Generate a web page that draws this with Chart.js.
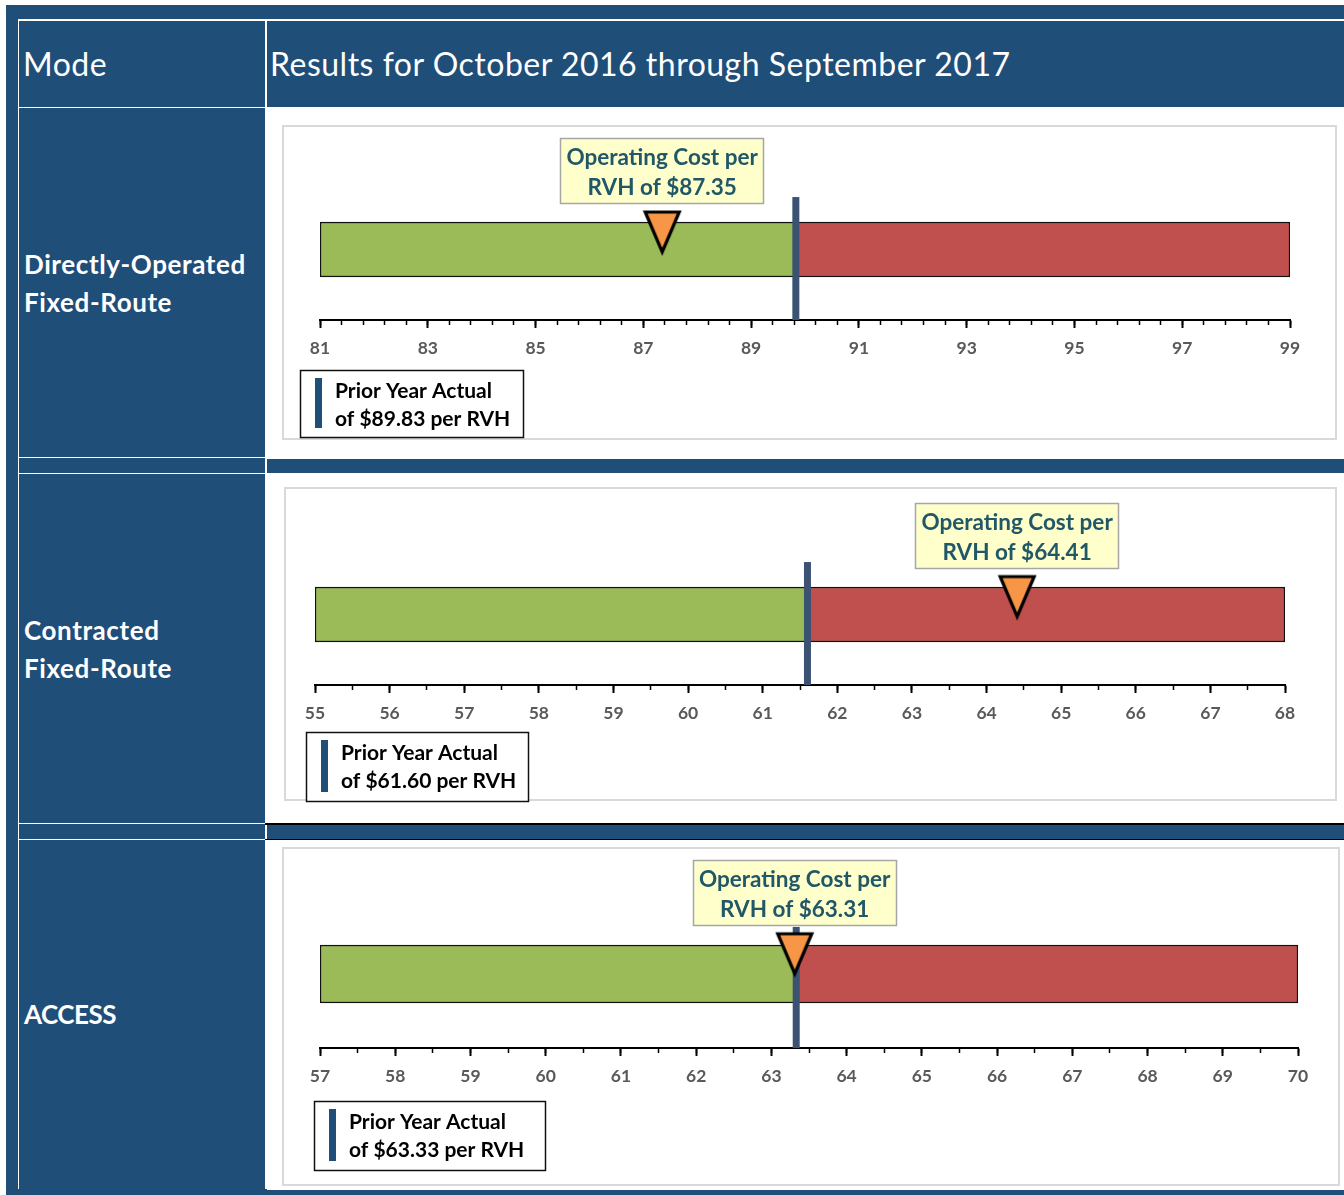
<!DOCTYPE html>
<html>
<head>
<meta charset="utf-8">
<script src="https://cdn.jsdelivr.net/npm/chart.js@4.4.1/dist/chart.umd.min.js"></script>
<style>
html,body{margin:0;padding:0;background:#fff;}
body{width:1344px;height:1195px;position:relative;overflow:hidden;font-family:Lato,"Open Sans",sans-serif;}
.abs{position:absolute;}
.wl{position:absolute;background:#fff;}
.bl{position:absolute;background:#000;}
.hdr{position:absolute;color:#fff;font-size:32px;top:21px;height:86px;line-height:86px;white-space:nowrap;letter-spacing:0.5px;}
.lbl{position:absolute;color:#fff;font-weight:bold;font-size:26px;line-height:38px;left:24px;width:240px;display:flex;align-items:center;letter-spacing:0.6px;}
.cell{position:absolute;background:#fff;left:267px;width:1077px;}
canvas{position:absolute;left:267px;}
</style>
</head>
<body>
<div class="abs" style="left:6px;top:5px;width:1338px;height:1190px;background:#1F4E79;"></div>
<!-- grid lines -->
<div class="wl" style="left:18px;top:19.3px;width:1326px;height:1.5px;"></div>
<div class="wl" style="left:18.2px;top:19.3px;width:1.2px;height:1170px;"></div>
<div class="wl" style="left:265.2px;top:19.3px;width:1.5px;height:1170px;"></div>
<div class="wl" style="left:18px;top:106.7px;width:1326px;height:1.5px;"></div>
<div class="wl" style="left:18px;top:456.7px;width:248px;height:1.4px;"></div>
<div class="wl" style="left:18px;top:473px;width:248px;height:1.4px;"></div>
<div class="wl" style="left:18px;top:823.2px;width:248px;height:1.3px;"></div>
<div class="wl" style="left:18px;top:838.6px;width:248px;height:1.3px;"></div>
<!-- result cells -->
<div class="cell" style="top:108px;height:351px;"></div>
<div class="cell" style="top:473px;height:350px;"></div>
<div class="cell" style="top:840px;height:350px;"></div>
<div class="bl" style="left:265px;top:823px;width:1079px;height:1.5px;"></div>
<div class="bl" style="left:265px;top:838.6px;width:1079px;height:1.5px;"></div>
<!-- headers -->
<div class="hdr" style="left:23px;">Mode</div>
<div class="hdr" style="left:270px;">Results for October 2016 through September 2017</div>
<div class="lbl" id="lbl0" style="top:108px;height:349px;"></div>
<div class="lbl" id="lbl1" style="top:474px;height:349px;"></div>
<div class="lbl" id="lbl2" style="top:840px;height:348px;letter-spacing:-0.5px;"></div>
<canvas id="c0" width="1077" height="351" style="top:108px;"></canvas>
<canvas id="c1" width="1077" height="350" style="top:473px;"></canvas>
<canvas id="c2" width="1077" height="350" style="top:840px;"></canvas>
<script>
// ---------------- DATA ----------------
const modeNames = ["Directly-Operated Fixed-Route", "Contracted Fixed-Route", "ACCESS"];
const modeLines = [["Directly-Operated", "Fixed-Route"], ["Contracted", "Fixed-Route"], ["ACCESS"]];
const operatingCost = [87.35, 64.41, 63.31];
const priorYearActual = [89.83, 61.60, 63.33];
const axisMin = [81, 55, 57];
const axisMax = [99, 68, 70];
const minorStep = [0.4, 0.5, 0.5];
const tickLabels1 = [81, 83, 85, 87, 89, 91, 93, 95, 97, 99];
const tickLabels2 = [55, 56, 57, 58, 59, 60, 61, 62, 63, 64, 65, 66, 67, 68];
const tickLabels3 = [57, 58, 59, 60, 61, 62, 63, 64, 65, 66, 67, 68, 69, 70];
const tickLabels = [tickLabels1, tickLabels2, tickLabels3];
const calloutTitle = "Operating Cost per";
const legendTitle = "Prior Year Actual";

// ---------------- LAYOUT (positions / styles) ----------------
const layoutCfg = [
  {padL:53, padR:54, padT:71, padB:99, barT:55, lineTop:0.872, triY:0.617, panel:[16,18,1053,313], callTop:30, legend:[33,262,224,68]},
  {padL:48, padR:59, padT:71, padB:98, barT:55, lineTop:0.872, triY:0.62,  panel:[18,15,1051,312], callTop:30, legend:[39,259,223,70]},
  {padL:53, padR:46, padT:60, padB:102, barT:58, lineTop:0.818, triY:0.63, panel:[16,8,1056,337],  callTop:20, legend:[47,261,232,70]}
];
const FONT = "Lato";
const COLORS = {green:"#9BBB59", red:"#C0504D", orange:"#F79646", prior:"#3B5273", legendMark:"#1F4E79",
  callFill:"#FFFFCC", callBorder:"#A6A6A6", callText:"#215868", tick:"#595959", panel:"#D9D9D9"};

modeLines.forEach((lines, i) => {
  const el = document.getElementById("lbl" + i);
  el.innerHTML = "<div>" + lines.join("<br>") + "</div>";
});

function makeTriangle() {
  const c = document.createElement("canvas");
  c.width = 40; c.height = 48;
  const g = c.getContext("2d");
  g.beginPath();
  g.moveTo(3, 3); g.lineTo(37, 3); g.lineTo(20, 43); g.closePath();
  g.fillStyle = COLORS.orange; g.fill();
  g.lineWidth = 3.2; g.lineJoin = "miter"; g.strokeStyle = "#000"; g.stroke();
  return c;
}
const triImg = makeTriangle();

const decorPlugin = {
  id: "decor",
  beforeDraw(chart) {
    const i = chart.options.plugins.decor.index;
    const L = layoutCfg[i];
    const ctx = chart.ctx;
    ctx.save();
    ctx.fillStyle = "#fff";
    ctx.fillRect(0, 0, chart.width, chart.height);
    ctx.strokeStyle = COLORS.panel;
    ctx.lineWidth = 2;
    ctx.strokeRect(L.panel[0], L.panel[1], L.panel[2], L.panel[3]);
    ctx.restore();
  },
  afterDraw(chart) {
    const i = chart.options.plugins.decor.index;
    const L = layoutCfg[i];
    const ctx = chart.ctx;
    const xs = chart.scales.x;
    ctx.save();
    const cx = xs.getPixelForValue(operatingCost[i]);
    const bw = 204, bh = 66;
    const bx = Math.round(cx - bw / 2), by = L.callTop;
    ctx.fillStyle = COLORS.callFill;
    ctx.fillRect(bx, by, bw, bh);
    ctx.strokeStyle = COLORS.callBorder;
    ctx.lineWidth = 1.5;
    ctx.strokeRect(bx + 0.5, by + 0.5, bw - 1, bh - 1);
    ctx.fillStyle = COLORS.callText;
    ctx.font = "bold 22.5px " + FONT;
    ctx.textAlign = "center";
    ctx.textBaseline = "middle";
    ctx.fillText(calloutTitle, cx, by + 20);
    ctx.fillText("RVH of $" + operatingCost[i].toFixed(2), cx, by + 50);
    const [lx, ly, lw, lh] = L.legend;
    ctx.fillStyle = "#fff";
    ctx.fillRect(lx, ly, lw, lh);
    ctx.strokeStyle = "#111";
    ctx.lineWidth = 1.5;
    ctx.strokeRect(lx + 0.5, ly + 0.5, lw - 1, lh - 1);
    ctx.fillStyle = COLORS.legendMark;
    ctx.fillRect(lx + 15, ly + 8, 7, lh - 18);
    ctx.fillStyle = "#000";
    ctx.font = "bold 21px " + FONT;
    ctx.textAlign = "left";
    ctx.fillText(legendTitle, lx + 35, ly + 21);
    ctx.fillText("of $" + priorYearActual[i].toFixed(2) + " per RVH", lx + 35, ly + 49);
    ctx.restore();
  }
};

function buildChart(i) {
  const L = layoutCfg[i];
  const min = axisMin[i], max = axisMax[i], prior = priorYearActual[i];
  const minorTicks = [];
  for (let k = 0; min + k * minorStep[i] <= max + 1e-9; k++) {
    minorTicks.push(Math.round((min + k * minorStep[i]) * 1000) / 1000);
  }
  return new Chart(document.getElementById("c" + i), {
    type: "bar",
    data: {
      labels: [modeNames[i]],
      datasets: [
        {type: "line", label: "Operating Cost per RVH", indexAxis: "x",
         data: [{x: operatingCost[i], y: L.triY}], xAxisID: "x", yAxisID: "yv",
         showLine: false, pointStyle: triImg, pointRadius: 20, order: 0, clip: false},
        {type: "line", label: "Prior Year Actual", indexAxis: "x",
         data: [{x: prior, y: 0}, {x: prior, y: L.lineTop}], xAxisID: "x", yAxisID: "yv",
         borderColor: COLORS.prior, borderWidth: 7, borderCapStyle: "butt", pointRadius: 0,
         order: 1, clip: false, fill: false},
        {type: "bar", label: "Below prior year", indexAxis: "y", data: [[min, prior]],
         xAxisID: "x", yAxisID: "y", backgroundColor: COLORS.green, borderColor: "#111",
         borderWidth: 1.5, borderSkipped: false, barThickness: L.barT, grouped: false, order: 2},
        {type: "bar", label: "Above prior year", indexAxis: "y", data: [[prior, max]],
         xAxisID: "x", yAxisID: "y", backgroundColor: COLORS.red, borderColor: "#111",
         borderWidth: 1.5, borderSkipped: false, barThickness: L.barT, grouped: false, order: 3}
      ]
    },
    options: {
      indexAxis: "y",
      responsive: false,
      animation: false,
      devicePixelRatio: 1,
      events: [],
      layout: {padding: {left: L.padL, right: L.padR, top: L.padT, bottom: L.padB}},
      plugins: {legend: {display: false}, tooltip: {enabled: false}, decor: {index: i}},
      scales: {
        x: {
          type: "linear", position: "bottom", min: min, max: max, beginAtZero: false, offset: false,
          afterBuildTicks: s => { s.ticks = tickLabels[i].map(v => ({value: v})); },
          afterFit: s => { s.height = 40; },
          grid: {display: true, drawOnChartArea: false, drawTicks: true, tickLength: 8, tickWidth: 2, tickColor: "#000"},
          border: {display: true, color: "#000", width: 2},
          ticks: {color: COLORS.tick, font: {family: FONT, size: 17.5, weight: "bold"}, padding: 10, autoSkip: false, maxRotation: 0}
        },
        xm: {
          type: "linear", axis: "x", position: {yv: 0}, min: min, max: max, beginAtZero: false, offset: false,
          afterBuildTicks: s => { s.ticks = minorTicks.map(v => ({value: v})); },
          grid: {display: true, drawOnChartArea: false, drawTicks: true, tickLength: 5, tickWidth: 1.5, tickColor: "#000"},
          border: {display: false},
          ticks: {display: false}
        },
        y: {type: "category", display: false},
        yv: {type: "linear", axis: "y", position: "left", display: false, min: 0, max: 1, offset: false,
             grid: {offset: false}}
      }
    },
    plugins: [decorPlugin]
  });
}
[0, 1, 2].forEach(buildChart);
</script>
</body>
</html>
